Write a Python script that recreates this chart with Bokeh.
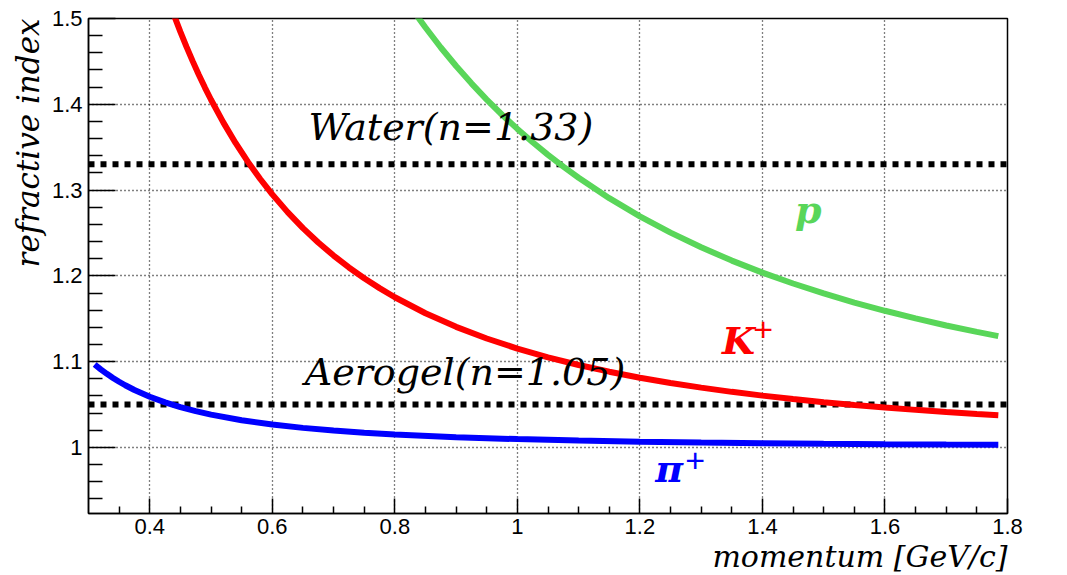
from bokeh.plotting import figure
from bokeh.models import Label, Range1d, FixedTicker, CustomJSTickFormatter, Title
from bokeh.embed import file_html
from bokeh.resources import INLINE

# momentum [GeV/c] and threshold refractive index
pi_p = [0.31, 0.32, 0.33, 0.34, 0.35, 0.36, 0.375, 0.40, 0.425, 0.45, 0.475, 0.50, 0.55,
        0.60, 0.65, 0.70, 0.75, 0.80, 0.90, 1.00, 1.10, 1.20, 1.30, 1.40, 1.50, 1.60,
        1.70, 1.785]
pi_n = [1.0967, 1.0910, 1.0858, 1.0810, 1.0766, 1.0725, 1.0670, 1.0591, 1.0525, 1.0470,
        1.0423, 1.0382, 1.0317, 1.0267, 1.0228, 1.0197, 1.0172, 1.0151, 1.0119, 1.0097,
        1.0080, 1.0067, 1.0057, 1.0050, 1.0043, 1.0038, 1.0034, 1.0031]

k_p = [0.44, 0.45, 0.46, 0.47, 0.48, 0.49, 0.50, 0.52, 0.54, 0.56, 0.58, 0.60, 0.625,
       0.65, 0.675, 0.70, 0.725, 0.75, 0.775, 0.80, 0.85, 0.90, 0.95, 1.00, 1.05, 1.10,
       1.15, 1.20, 1.25, 1.30, 1.35, 1.40, 1.45, 1.50, 1.55, 1.60, 1.65, 1.70, 1.75, 1.785]
k_n = [1.5030, 1.4845, 1.4669, 1.4503, 1.4345, 1.4195, 1.4053, 1.3789, 1.3549, 1.3331,
       1.3132, 1.2950, 1.2743, 1.2557, 1.2389, 1.2237, 1.2098, 1.1972, 1.1857, 1.1751,
       1.1564, 1.1406, 1.1270, 1.1152, 1.1050, 1.0961, 1.0883, 1.0813, 1.0752, 1.0697,
       1.0648, 1.0604, 1.0564, 1.0528, 1.0495, 1.0465, 1.0438, 1.0413, 1.0390, 1.0375]

pr_p = [0.835, 0.85, 0.875, 0.90, 0.925, 0.95, 0.975, 1.00, 1.025, 1.05, 1.075, 1.10,
        1.15, 1.20, 1.25, 1.30, 1.35, 1.40, 1.45, 1.50, 1.55, 1.60, 1.65, 1.70, 1.75, 1.785]
pr_n = [1.5042, 1.4895, 1.4662, 1.4446, 1.4244, 1.4055, 1.3878, 1.3713, 1.3557, 1.3411,
        1.3273, 1.3144, 1.2906, 1.2694, 1.2504, 1.2333, 1.2178, 1.2038, 1.1911, 1.1795,
        1.1689, 1.1593, 1.1504, 1.1422, 1.1347, 1.1297]

materials = ["Water(n=1.33)", "Aerogel(n=1.05)"]
material_n = [1.33, 1.05]

x_major = [0.4, 0.6, 0.8, 1.0, 1.2, 1.4, 1.6, 1.8]
x_minor = [0.35, 0.45, 0.5, 0.55, 0.65, 0.7, 0.75, 0.85, 0.9, 0.95, 1.05, 1.1, 1.15,
           1.25, 1.3, 1.35, 1.45, 1.5, 1.55, 1.65, 1.7, 1.75]
y_major = [1.0, 1.1, 1.2, 1.3, 1.4, 1.5]
y_minor = [0.94, 0.96, 0.98, 1.02, 1.04, 1.06, 1.08, 1.12, 1.14, 1.16, 1.18, 1.22, 1.24,
           1.26, 1.28, 1.32, 1.34, 1.36, 1.38, 1.42, 1.44, 1.46, 1.48]

X0, X1 = 0.3, 1.8
Y0, Y1 = 0.923, 1.5

p = figure(frame_width=919, frame_height=495, output_backend="svg", toolbar_location=None,
           x_range=Range1d(X0, X1), y_range=Range1d(Y0, Y1),
           min_border_left=88, min_border_top=18, min_border_right=52, min_border_bottom=62)
p.background_fill_color = "white"
p.border_fill_color = "white"
p.outline_line_color = "black"
p.outline_line_width = 1.5

serif = "DejaVu Serif"

# dotted grid
for g in (p.xgrid, p.ygrid):
    g.grid_line_color = "black"
    g.grid_line_dash = "1 3"
    g.grid_line_width = 1.3
p.xgrid.ticker = FixedTicker(ticks=x_major)
p.ygrid.ticker = FixedTicker(ticks=y_major)

fmt = CustomJSTickFormatter(code="return String(Math.round(tick*100)/100)")

for ax, major, minor, tin, mtin, stand in ((p.xaxis[0], x_major, x_minor, 15, 7, 5),
                                           (p.yaxis[0], y_major, y_minor, 27, 14, 6)):
    ax.ticker = FixedTicker(ticks=major, minor_ticks=minor)
    ax.formatter = fmt
    ax.major_tick_in = tin
    ax.major_tick_out = 0
    ax.minor_tick_in = mtin
    ax.minor_tick_out = 0
    ax.major_label_standoff = stand
    ax.axis_line_width = 1.5
    ax.major_tick_line_width = 1.5
    ax.minor_tick_line_width = 1.5
    ax.major_label_text_font = "Liberation Sans"
    ax.major_label_text_font_size = "22px"
    ax.major_label_text_color = "black"

# axis titles (right/top aligned, as in the reference)
p.add_layout(Title(text="momentum [GeV/c]", align="right", text_font=serif,
                   text_font_style="italic", text_font_size="30px", text_color="black",
                   standoff=0), "below")
p.add_layout(Title(text="refractive index", align="right", text_font=serif,
                   text_font_style="italic", text_font_size="31px", text_color="black",
                   standoff=6), "left")

# material thresholds (thick dotted)
for n in material_n:
    p.line([X0, X1], [n, n], line_color="black", line_width=6, line_dash="6 6")

# particle curves
p.line(pi_p, pi_n, line_color="#0000ff", line_width=6)
p.line(k_p, k_n, line_color="#ff0000", line_width=6)
p.line(pr_p, pr_n, line_color="#59d659", line_width=6)

# material labels
p.add_layout(Label(x=0.659, y=1.373, text=materials[0], text_font=serif,
                   text_font_style="italic", text_font_size="38px", text_color="black",
                   text_baseline="alphabetic"))
p.add_layout(Label(x=0.653, y=1.0875, text=materials[1], text_font=serif,
                   text_font_style="italic", text_font_size="38px", text_color="black",
                   text_baseline="alphabetic"))

# particle labels
def particle(x, y, main, color, sup=None, sup_dx=0.0, sup_dy=0.0):
    p.add_layout(Label(x=x, y=y, text=main, text_font=serif, text_font_style="bold italic",
                       text_font_size="38px", text_color=color, text_baseline="alphabetic"))
    if sup:
        p.add_layout(Label(x=x + sup_dx, y=y + sup_dy, text=sup, text_font="Liberation Sans",
                           text_font_size="34px", text_color=color, text_baseline="alphabetic"))

particle(1.334, 1.1248, "K", "#ff0000", "+", 0.051, 0.0128)
particle(1.453, 1.2774, "p", "#59d659")
particle(1.225, 0.9756, "π", "#0000ff", "+", 0.049, 0.0093)

open("out.html", "w").write(file_html(p, INLINE))
